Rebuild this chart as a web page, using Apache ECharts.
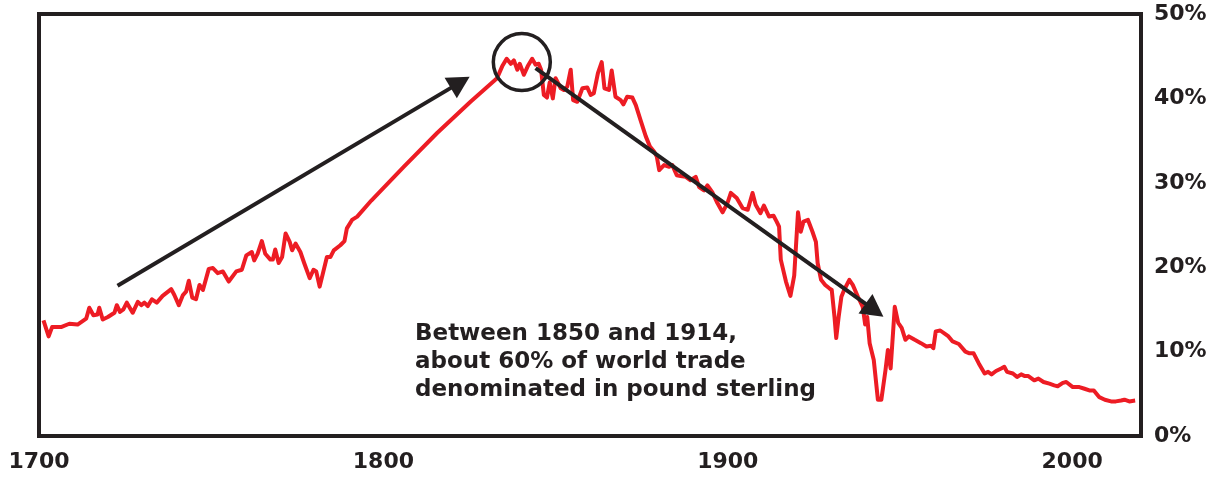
<!DOCTYPE html>
<html>
<head>
<meta charset="utf-8">
<script src="https://cdn.jsdelivr.net/npm/echarts@6/dist/echarts.min.js"></script>
<style>
  html, body { margin: 0; padding: 0; background: #fff; }
  #chart { width: 1220px; height: 483px; }
</style>
</head>
<body>
<div id="chart"></div>
<script>
// share of world trade (year, percent)
const years = [
  1701.3, 1702.8, 1703.8, 1706.4, 1708.8, 1711.2, 1713.7, 1714.6, 1715.8, 1717.0,
  1717.5, 1718.5, 1720.0, 1721.9, 1722.6, 1723.5, 1724.5, 1725.5, 1727.2, 1728.7,
  1729.7, 1730.6, 1731.6, 1732.8, 1734.2, 1735.9, 1738.4, 1739.3, 1740.6, 1741.8,
  1742.7, 1743.5, 1744.5, 1745.6, 1746.6, 1747.6, 1749.3, 1750.5, 1751.9, 1753.4,
  1755.1, 1757.3, 1758.9, 1760.2, 1761.8, 1762.5, 1763.5, 1764.7, 1765.7, 1767.2,
  1767.9, 1768.6, 1769.6, 1770.6, 1771.6, 1772.8, 1773.5, 1774.5, 1775.9, 1777.0,
  1778.6, 1779.7, 1780.5, 1781.5, 1783.6, 1784.6, 1785.6, 1787.5, 1788.7, 1789.4,
  1790.9, 1792.4, 1796.5, 1805.9, 1815.6, 1825.3, 1833.0, 1834.5, 1835.8, 1837.0,
  1837.9, 1838.9, 1839.6, 1840.8, 1841.9, 1843.2, 1844.2, 1845.1, 1845.8, 1846.6,
  1847.5, 1848.3, 1849.2, 1850.0, 1851.5, 1852.4, 1853.4, 1854.4, 1855.1, 1856.3,
  1857.8, 1859.2, 1860.2, 1861.1, 1862.3, 1863.4, 1864.2, 1865.5, 1866.3, 1867.4,
  1868.9, 1869.7, 1870.8, 1872.3, 1873.3, 1874.7, 1876.2, 1877.4, 1878.6, 1879.4,
  1880.1, 1881.5, 1883.0, 1883.9, 1885.2, 1886.3, 1887.8, 1889.2, 1890.7, 1891.7,
  1893.1, 1894.1, 1895.5, 1897.0, 1898.5, 1899.9, 1900.9, 1902.6, 1904.3, 1905.8,
  1907.2, 1908.1, 1909.5, 1910.5, 1912.0, 1913.3, 1914.2, 1914.9, 1915.4, 1916.9,
  1918.2, 1919.3, 1920.4, 1921.2, 1922.0, 1923.3, 1924.6, 1925.6, 1926.1, 1927.1,
  1928.3, 1929.5, 1930.2, 1931.0, 1931.5, 1932.2, 1933.0, 1933.8, 1935.3, 1936.3,
  1937.8, 1939.2, 1939.9, 1940.5, 1941.2, 1942.4, 1943.6, 1944.6, 1945.8, 1946.5,
  1947.3, 1948.5, 1949.5, 1950.5, 1951.6, 1952.6, 1954.3, 1956.1, 1957.7, 1959.0,
  1959.7, 1960.4, 1961.7, 1963.4, 1964.1, 1965.3, 1967.1, 1969.0, 1970.2, 1971.4,
  1972.9, 1974.6, 1975.6, 1976.6, 1977.9, 1979.4, 1980.3, 1981.1, 1982.8, 1984.0,
  1985.2, 1986.3, 1987.3, 1989.0, 1990.2, 1991.7, 1993.4, 1994.8, 1995.8, 1997.3,
  1998.3, 2000.2, 2002.1, 2003.6, 2005.0, 2006.3, 2007.9, 2009.5, 2011.3, 2012.7,
  2014.2, 2015.2, 2016.6, 2018.3
];
const share = [
  13.7, 11.8, 12.9, 12.9, 13.3, 13.2, 13.9, 15.2, 14.3, 14.4,
  15.2, 13.8, 14.1, 14.6, 15.5, 14.7, 15.0, 15.8, 14.6, 15.9,
  15.5, 15.8, 15.4, 16.2, 15.8, 16.6, 17.4, 16.7, 15.5, 16.7,
  17.1, 18.4, 16.4, 16.2, 17.9, 17.3, 19.8, 19.9, 19.3, 19.5,
  18.3, 19.5, 19.7, 21.4, 21.8, 20.8, 21.6, 23.1, 21.6, 20.9,
  20.9, 22.1, 20.5, 21.2, 24.0, 23.0, 22.0, 22.8, 21.8, 20.5,
  18.7, 19.7, 19.5, 17.7, 21.2, 21.2, 22.0, 22.6, 23.1, 24.6,
  25.6, 26.0, 27.9, 31.9, 35.9, 39.6, 42.4, 43.8, 44.7, 44.1,
  44.5, 43.4, 44.1, 42.8, 43.8, 44.7, 44.0, 44.1, 43.4, 40.4,
  40.1, 41.9, 40.0, 42.4, 41.2, 41.0, 41.4, 43.4, 39.8, 39.6,
  41.2, 41.3, 40.4, 40.6, 43.0, 44.3, 41.2, 41.0, 43.3, 40.2,
  39.8, 39.3, 40.2, 40.1, 39.2, 37.4, 35.5, 34.3, 33.7, 33.1,
  31.5, 32.1, 31.9, 32.1, 30.9, 30.8, 30.7, 30.3, 30.7, 29.5,
  29.1, 29.7, 28.9, 27.6, 26.5, 27.6, 28.8, 28.2, 27.0, 26.8,
  28.8, 27.4, 26.4, 27.3, 26.0, 26.1, 25.4, 24.8, 20.9, 18.3,
  16.6, 19.0, 26.5, 24.2, 25.4, 25.6, 24.2, 23.0, 20.5, 18.5,
  17.9, 17.5, 17.3, 14.1, 11.6, 14.1, 16.5, 17.3, 18.5, 17.9,
  16.5, 15.3, 13.2, 14.1, 11.0, 9.0, 4.3, 4.3, 7.8, 10.2,
  8.0, 15.3, 13.4, 12.8, 11.4, 11.8, 11.4, 11.0, 10.6, 10.7,
  10.4, 12.4, 12.5, 12.0, 11.8, 11.2, 10.9, 10.0, 9.8, 9.8,
  8.6, 7.4, 7.6, 7.3, 7.7, 8.0, 8.2, 7.6, 7.4, 7.0,
  7.3, 7.1, 7.1, 6.6, 6.8, 6.4, 6.2, 6.0, 5.9, 6.3,
  6.4, 5.8, 5.8, 5.6, 5.4, 5.4, 4.6, 4.3, 4.1, 4.1,
  4.2, 4.3, 4.1, 4.2
];

const yearTicks = [1700, 1800, 1900, 2000];
const pctTicks = [0, 10, 20, 30, 40, 50];

// arrows and circle (data coords)
const arrowUp = [[1722.8, 17.8], [1822.3, 41.9]];
const arrowDown = [[1844.2, 43.6], [1942.6, 14.9]];
const circleAt = [1840.2, 44.3];

const noteLines = [
  'Between 1850 and 1914,',
  'about 60% of world trade',
  'denominated in pound sterling'
];

const ink = '#231f20';
const font = '"DejaVu Sans", sans-serif';

var myChart = echarts.init(document.getElementById('chart'));
myChart.setOption({
  animation: false,
  grid: {
    left: 39, right: 79, top: 14, bottom: 47,
    show: true, borderColor: ink, borderWidth: 4, backgroundColor: 'transparent'
  },
  xAxis: {
    type: 'value',
    min: yearTicks[0], max: 2020, interval: 100,
    axisLine: { show: false },
    axisTick: { show: false },
    splitLine: { show: false },
    axisLabel: {
      showMaxLabel: false,
      margin: 15,
      color: ink, fontFamily: font, fontWeight: 'bold', fontSize: 22,
      formatter: v => yearTicks.includes(v) ? String(v) : ''
    }
  },
  yAxis: {
    type: 'value', position: 'right',
    min: pctTicks[0], max: pctTicks[pctTicks.length - 1], interval: 10,
    axisLine: { show: false },
    axisTick: { show: false },
    splitLine: { show: false },
    axisLabel: {
      margin: 13,
      color: ink, fontFamily: font, fontWeight: 'bold', fontSize: 22,
      formatter: '{value}%'
    }
  },
  series: [{
    type: 'line',
    data: years.map((y, i) => [y, share[i]]),
    showSymbol: false,
    lineStyle: { color: '#ed1c24', width: 4, join: 'round' },
    silent: true,
    markLine: {
      silent: true,
      symbol: ['none', 'triangle'],
      symbolSize: [24, 22],
      label: { show: false },
      lineStyle: { color: ink, width: 4, type: 'solid' },
      data: [
        [{ coord: arrowUp[0] }, { coord: arrowUp[1] }],
        [{ coord: arrowDown[0] }, { coord: arrowDown[1] }]
      ]
    },
    markPoint: {
      silent: true,
      symbol: 'circle',
      symbolSize: 57,
      label: { show: false },
      itemStyle: { color: 'rgba(0,0,0,0)', borderColor: ink, borderWidth: 3.5 },
      data: [{ coord: circleAt }]
    }
  }],
  graphic: [{
    type: 'text',
    left: 415, top: 320,
    silent: true,
    style: {
      text: noteLines.join('\n'),
      fill: ink,
      font: 'bold 23px ' + font,
      lineHeight: 28
    }
  }]
});
</script>
</body>
</html>
